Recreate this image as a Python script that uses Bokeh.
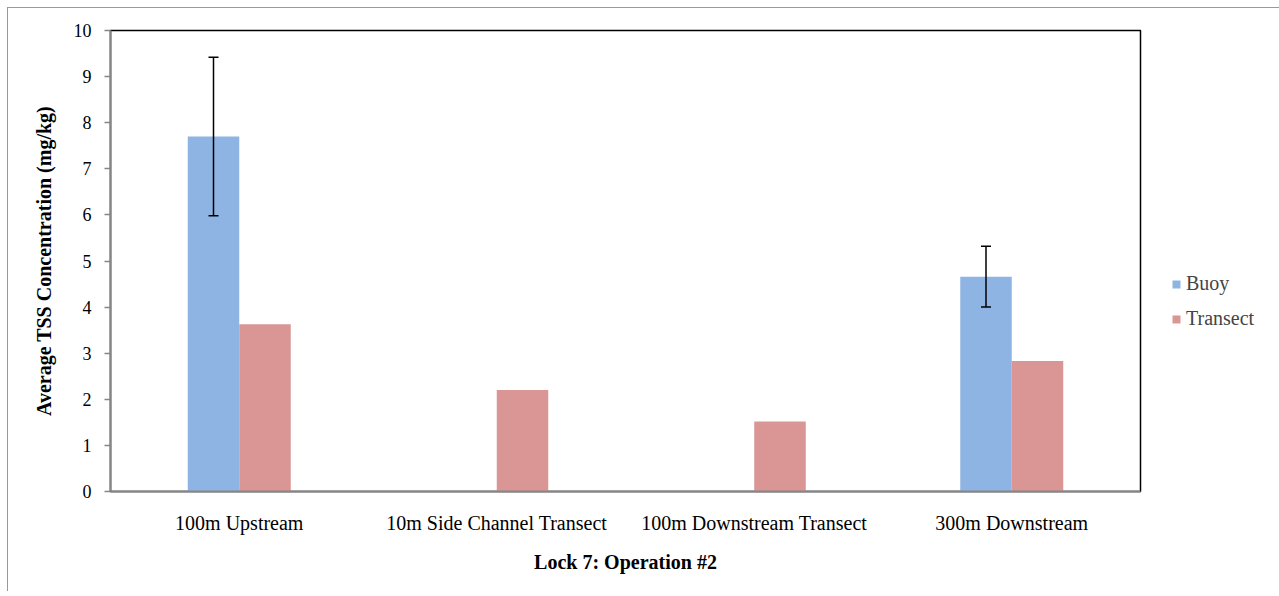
from bokeh.plotting import figure
from bokeh.models import (ColumnDataSource, FactorRange, Range1d, Whisker, TeeHead,
                          Legend, LegendItem, FixedTicker)
from bokeh.transform import dodge
from bokeh.embed import file_html
from bokeh.resources import INLINE
import numpy as np

categories = ["100m Upstream", "10m Side Channel Transect", "100m Downstream Transect", "300m Downstream"]
buoy = [7.70, np.nan, np.nan, 4.66]
buoy_err = [1.72, np.nan, np.nan, 0.66]
transect = [3.63, 2.20, 1.52, 2.83]
y_ticks = [0, 1, 2, 3, 4, 5, 6, 7, 8, 9, 10]

FONT = "Liberation Serif"
BLUE = "#8EB4E3"
RED = "#D99694"
GRAY = "#868686"

src = ColumnDataSource(dict(cat=categories, buoy=buoy, transect=transect))
wx = [c for c, v in zip(categories, buoy) if not np.isnan(v)]
wb = [v for v in buoy if not np.isnan(v)]
we = [e for e in buoy_err if not np.isnan(e)]
wsrc = ColumnDataSource(dict(cat=wx, upper=[b + e for b, e in zip(wb, we)],
                             lower=[b - e for b, e in zip(wb, we)]))

p = figure(x_range=FactorRange(factors=categories, range_padding=0),
           y_range=Range1d(0, 10),
           frame_width=1030, frame_height=461,
           min_border_left=102, min_border_top=22, min_border_right=136, min_border_bottom=100,
           output_backend="svg", toolbar_location=None,
           styles={"margin-left": "7px", "margin-top": "7px",
                   "border-left": "1px solid #999", "border-top": "1px solid #999"})
p.background_fill_color = "white"
p.border_fill_color = "white"
p.outline_line_color = "black"
p.outline_line_width = 1.5
p.xgrid.grid_line_color = None
p.ygrid.grid_line_color = None

rb = p.vbar(x=dodge("cat", -0.1, range=p.x_range), top="buoy", width=0.2, source=src,
            fill_color=BLUE, line_color=None)
rt = p.vbar(x=dodge("cat", 0.1, range=p.x_range), top="transect", width=0.2, source=src,
            fill_color=RED, line_color=None)

w = Whisker(base=dodge("cat", -0.1, range=p.x_range), upper="upper", lower="lower", source=wsrc,
            line_color="black", line_width=1.5, level="overlay",
            upper_head=TeeHead(size=10, line_color="black", line_width=1.5),
            lower_head=TeeHead(size=10, line_color="black", line_width=1.5))
p.add_layout(w)

# y axis
p.yaxis.ticker = FixedTicker(ticks=y_ticks)
p.yaxis.axis_line_color = GRAY
p.yaxis.axis_line_width = 2
p.yaxis.major_tick_line_color = GRAY
p.yaxis.major_tick_line_width = 1.5
p.yaxis.major_tick_out = 6
p.yaxis.major_tick_in = 0
p.yaxis.minor_tick_line_color = None
p.yaxis.major_label_text_font = FONT
p.yaxis.major_label_text_font_size = "18px"
p.yaxis.major_label_text_color = "black"
p.yaxis.major_label_standoff = 13
p.yaxis.axis_label = "Average TSS Concentration (mg/kg)"
p.yaxis.axis_label_text_font = FONT
p.yaxis.axis_label_text_font_size = "20px"
p.yaxis.axis_label_text_font_style = "bold"
p.yaxis.axis_label_text_color = "black"
p.yaxis.axis_label_standoff = 16

# x axis
p.xaxis.axis_line_color = GRAY
p.xaxis.axis_line_width = 2
p.xaxis.major_tick_line_color = None
p.xaxis.minor_tick_line_color = None
p.xaxis.major_label_text_font = FONT
p.xaxis.major_label_text_font_size = "20px"
p.xaxis.major_label_text_color = "black"
p.xaxis.major_label_standoff = 14
p.xaxis.axis_label = "Lock 7: Operation #2"
p.xaxis.axis_label_text_font = FONT
p.xaxis.axis_label_text_font_size = "20px"
p.xaxis.axis_label_text_font_style = "bold"
p.xaxis.axis_label_text_color = "black"
p.xaxis.axis_label_standoff = 14

legend = Legend(items=[LegendItem(label="Buoy", renderers=[rb]),
                       LegendItem(label="Transect", renderers=[rt])],
                location=(31, 161))
legend.border_line_color = None
legend.background_fill_alpha = 0
legend.label_text_font = FONT
legend.label_text_font_size = "20px"
legend.glyph_width = 10
legend.glyph_height = 10
legend.spacing = 12
legend.label_standoff = 5
p.add_layout(legend, "right")

open("out.html", "w").write(file_html(p, INLINE))
